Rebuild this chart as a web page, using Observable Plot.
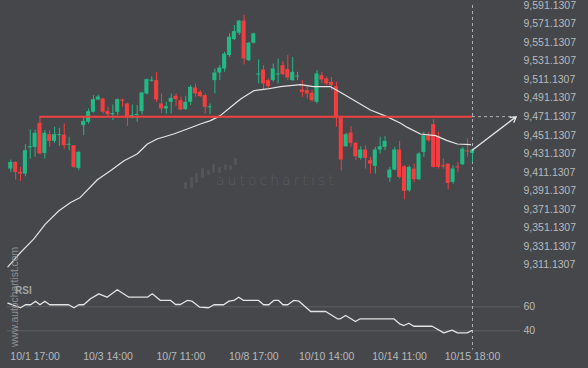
<!DOCTYPE html>
<html><head><meta charset="utf-8">
<script src="https://cdn.jsdelivr.net/npm/d3@7"></script>
<script src="https://cdn.jsdelivr.net/npm/@observablehq/plot@0.6"></script>
<style>
html,body{margin:0;padding:0;background:#45474b;}
#wrap{position:relative;width:588px;height:368px;overflow:hidden;background:#45474b;font-family:"Liberation Sans",Arial,sans-serif;}
#main{position:absolute;left:0;top:0;}
#rsi{position:absolute;left:0;top:282px;}
.wmtext{position:absolute;left:216px;top:172px;font-family:"DejaVu Sans",sans-serif;font-weight:200;font-size:14px;letter-spacing:3px;color:#585a5e;}
.bar{position:absolute;width:3px;background:#525458;border-radius:1px;}
.vtext{position:absolute;left:13.5px;top:297px;transform:translate(-50%,-50%) rotate(-90deg);white-space:nowrap;font-size:10.3px;color:#8c8e92;}
.rsilab{position:absolute;left:15px;top:285px;font-size:10px;font-weight:bold;color:#a0a2a5;}
</style></head>
<body><div id="wrap">
<div class="wmtext">autochartist</div>
<div id="main"></div>
<div id="rsi"></div>
<div class="vtext">www.autochartist.com</div>
<div class="rsilab">RSI</div>
</div>
<script>
// ---- data ----
const opens  = [9414.5,9421.7,9410.9,9409.1,9437.4,9437.9,9463.9,9431.4,9451.6,9444.4,9450.6,9451.3,9440.2,9439.7,9415.2,9461.4,9465.0,9475.8,9489.1,9490.2,9476.5,9473.3,9475.8,9488.9,9484.8,9471.5,9472.2,9476.5,9495.6,9509.4,9510.0,9484.8,9479.4,9486.6,9493.1,9488.4,9478.7,9486.6,9502.1,9497.4,9493.8,9480.6,9510.0,9518.3,9522.6,9537.0,9554.3,9561.2,9574.2,9531.6,9550.4,9516.0,9521.5,9510.0,9510.0,9516.0,9526.2,9521.9,9510.0,9513.8,9499.9,9499.2,9496.3,9486.6,9515.4,9511.8,9508.2,9503.5,9469.6,9438.6,9453.4,9442.3,9426.0,9435.1,9423.5,9417.4,9435.1,9437.9,9404.8,9413.4,9435.1,9417.0,9391.1,9414.5,9403.0,9432.5,9450.5,9462.4,9449.5,9418.1,9419.9,9400.1,9416.8,9419.2,9434.0,9431.4];
const highs  = [9424.2,9422.5,9416.3,9440.8,9456.7,9456.7,9471.1,9456.0,9456.0,9459.6,9458.5,9463.2,9448.7,9439.7,9433.6,9470.4,9479.4,9493.8,9494.2,9490.9,9481.2,9483.7,9490.2,9490.2,9485.5,9483.7,9483.0,9497.4,9511.8,9514.3,9519.0,9495.6,9486.6,9495.6,9495.6,9492.0,9493.1,9504.6,9506.4,9499.2,9495.6,9484.8,9522.6,9526.2,9540.6,9560.5,9569.5,9574.9,9580.3,9551.5,9561.2,9532.4,9526.2,9511.8,9528.0,9533.4,9530.5,9537.0,9535.2,9519.0,9510.0,9502.8,9499.2,9520.8,9519.0,9513.6,9513.6,9508.2,9470.4,9453.1,9460.3,9443.3,9438.6,9439.7,9427.1,9437.9,9448.7,9449.5,9416.3,9437.9,9444.4,9418.1,9418.1,9419.9,9432.5,9454.1,9454.1,9467.8,9454.1,9425.3,9419.9,9418.1,9421.7,9437.9,9447.1,9436.1];
const lows   = [9410.9,9402.6,9401.2,9406.2,9425.3,9427.1,9430.0,9425.3,9437.9,9442.3,9439.0,9436.1,9434.3,9415.2,9412.7,9450.5,9463.2,9475.0,9488.4,9474.0,9470.4,9466.8,9472.2,9481.2,9460.6,9468.6,9465.0,9472.9,9494.5,9508.2,9486.6,9474.7,9474.0,9474.0,9481.9,9477.6,9477.6,9483.0,9492.0,9492.0,9474.0,9473.2,9495.6,9510.0,9519.0,9535.2,9553.3,9558.7,9526.9,9530.5,9549.6,9506.4,9499.9,9501.0,9508.2,9506.4,9515.4,9510.0,9509.3,9510.0,9492.0,9490.2,9486.6,9484.8,9506.4,9504.6,9499.2,9459.6,9412.7,9437.9,9437.9,9423.5,9424.2,9414.5,9409.1,9409.1,9430.7,9434.3,9400.1,9412.7,9403.7,9381.3,9389.3,9400.1,9401.9,9427.1,9443.3,9415.6,9414.5,9414.5,9391.8,9398.3,9410.9,9418.1,9427.1,9421.7];
const closes = [9421.7,9410.9,9409.1,9434.3,9438.6,9453.1,9430.7,9453.1,9444.4,9451.6,9451.7,9439.7,9441.3,9416.3,9432.5,9466.0,9476.5,9489.5,9492.3,9475.8,9473.2,9474.4,9489.5,9487.8,9471.1,9472.6,9473.3,9496.7,9511.1,9510.5,9489.1,9479.4,9481.9,9490.9,9489.5,9478.3,9486.6,9502.8,9495.6,9492.7,9481.2,9481.7,9518.3,9523.7,9538.8,9556.9,9563.0,9574.2,9533.4,9550.4,9560.5,9517.1,9506.4,9503.5,9522.6,9517.1,9516.5,9512.9,9519.0,9514.9,9497.4,9495.6,9488.4,9517.2,9510.7,9506.4,9504.6,9469.6,9424.2,9451.6,9442.3,9427.8,9435.1,9426.0,9419.9,9435.1,9438.6,9444.4,9413.4,9435.1,9405.5,9390.4,9416.3,9403.0,9430.7,9450.5,9445.1,9416.3,9416.3,9416.9,9399.0,9414.5,9415.7,9436.1,9432.9,9435.1];

const maIdx = [-0.6,2,4.7,7.1,9.9,12.3,14.3,17.8,20.5,23.3,26,28.1,30.1,33.5,36.3,39,41.1,43.1,45.2,47.3,50,52.8,55.5,59.6,62.3,65.8,67.8,71.3,74,77.4,80.2,81.6,84.3,87.4,89.8,91.9,94.6];
const maVal = [9309.0,9324.4,9338.9,9355.1,9369.5,9378.5,9383.9,9403.0,9412.7,9423.5,9430.8,9441.6,9447.0,9452.4,9457.8,9463.2,9466.8,9472.2,9481.2,9490.2,9499.2,9501.0,9503.5,9505.7,9503.5,9503.5,9497.4,9486.6,9478.3,9471.1,9463.9,9459.5,9452.4,9450.6,9445.2,9441.6,9440.8];

const rsiIdx = [-0.6,2,3,4.1,5.1,6,7,8,11.9,13,14,15,16.4,18.1,19.8,21.9,24.3,28.1,29.1,30.8,32.9,33.9,34.9,36.3,37.3,38.9,40.7,41.8,43.8,44.9,45.9,46.9,47.9,51,52,53.1,54.1,55.1,56,57,58.2,59.3,61.7,64.8,67.2,67.8,68.9,70.9,71.9,78.8,80,80.9,81.9,82.9,86.7,89.1,90.8,91.9,93.9,94.9];
const rsiVal = [63.0,59.2,61.7,61.7,64.7,61.7,64.7,61.7,61.7,59.2,61.7,61.7,66.7,70.8,68.0,74.2,68.0,68.0,70.8,65.3,65.3,61.9,61.9,65.3,64.7,59.7,59.2,61.7,61.7,64.7,65.3,68.0,65.3,65.3,61.7,61.7,65.3,65.3,61.7,61.7,65.3,64.7,56.1,56.1,50.0,50.0,52.75,47.75,50.0,50.0,45.8,44.4,46.3,43.8,43.8,38.3,40.5,38.3,38.3,40.25];

const yTicks = [9311.1307,9331.1307,9351.1307,9371.1307,9391.1307,9411.1307,9431.1307,9451.1307,9471.1307,9491.1307,9511.1307,9531.1307,9551.1307,9571.1307,9591.1307];
const rsiTicks = [40, 60];
const xTickIdx = [5, 20, 35, 50, 65, 80, 95];
const xTickLabels = ["10/1 17:00","10/3 14:00","10/7 11:00","10/8 17:00","10/10 14:00","10/14 11:00","10/15 18:00"];

const level = 9471.1307;     // resistance level
const levelStart = 6;        // candle index where the level starts
const lastIdx = 95;          // last candle
const targetIdx = 104;       // forecast arrow end

// ---- styling ----
const GREEN = "#22b985", RED = "#f23e3e", TXT = "#b8babd", WHITE = "#e4e4e4";
const style = {background: "transparent", color: TXT, fontFamily: '"Liberation Sans", Arial, sans-serif', fontSize: "10.5px"};

const candles = opens.map((o, i) => ({i, o, h: highs[i], l: lows[i], c: closes[i], up: closes[i] >= o}));

const main = Plot.plot({
  width: 588, height: 282,
  marginTop: 5, marginBottom: 0, marginLeft: 0, marginRight: 68,
  style,
  x: {domain: [0, 95], range: [10.3, 472], axis: null},
  y: {domain: [9311.1307, 9591.1307], range: [264.3, 5]},
  marks: [
    Plot.axisY({anchor: "right", ticks: yTicks, tickFormat: d3.format(",.4f"), tickSize: 0, tickPadding: 3}),
    Plot.ruleX([lastIdx], {stroke: "#b0b0b0", strokeDasharray: "3,3", strokeWidth: 1}),
    Plot.ruleX(candles, {x: "i", y1: "l", y2: "h", stroke: d => d.up ? GREEN : RED, strokeWidth: 1}),
    Plot.rect(candles, {x1: d => d.i - 0.42, x2: d => d.i + 0.42, y1: "o", y2: "c", fill: d => d.up ? GREEN : RED}),
    Plot.line(maIdx, {x: d => d, y: (d, i) => maVal[i], stroke: WHITE, strokeWidth: 1.2}),
    Plot.ruleY([level], {x1: levelStart, x2: lastIdx, stroke: "#f2423f", strokeWidth: 2}),
    Plot.ruleY([level], {x1: lastIdx, x2: targetIdx - 0.5, stroke: "#b0b0b0", strokeDasharray: "3,3", strokeWidth: 1}),
    Plot.arrow([0], {x1: lastIdx, y1: closes[lastIdx], x2: targetIdx, y2: level, stroke: WHITE, strokeWidth: 1.3, headLength: 7})
  ]
});
document.getElementById("main").appendChild(main);

const rsi = Plot.plot({
  width: 588, height: 86,
  marginTop: 0, marginBottom: 18.5, marginLeft: 7, marginRight: 68,
  style,
  x: {domain: [0, 95], range: [10.3, 472]},
  y: {domain: [40, 60], range: [48.3, 24.3]},
  marks: [
    Plot.ruleY(rsiTicks, {stroke: "#5e6064", strokeWidth: 1}),
    Plot.axisY({anchor: "right", ticks: rsiTicks, tickSize: 0, tickPadding: 3}),
    Plot.axisX({anchor: "bottom", ticks: xTickIdx, tickFormat: d => xTickLabels[xTickIdx.indexOf(d)], tickSize: 0, tickPadding: 3}),
    Plot.ruleX([lastIdx], {stroke: "#b0b0b0", strokeDasharray: "3,3", strokeWidth: 1}),
    Plot.line(rsiIdx, {x: d => d, y: (d, i) => rsiVal[i], stroke: WHITE, strokeWidth: 1.3})
  ]
});
document.getElementById("rsi").appendChild(rsi);

// watermark logo bars (decorative)
const bars = [[183.5,182,189],[189.5,177,188],[195,173,183],[201,168,178],[207,170,175],[212,164,173],[218,167,173],[223.5,164,170],[229,165,170],[234,158,165]];
const wrap = document.getElementById("wrap");
bars.forEach(([x, t, b]) => { const d = document.createElement("div"); d.className = "bar"; d.style.left = x + "px"; d.style.top = t + "px"; d.style.height = (b - t) + "px"; wrap.insertBefore(d, wrap.firstChild); });
</script>
</body></html>
